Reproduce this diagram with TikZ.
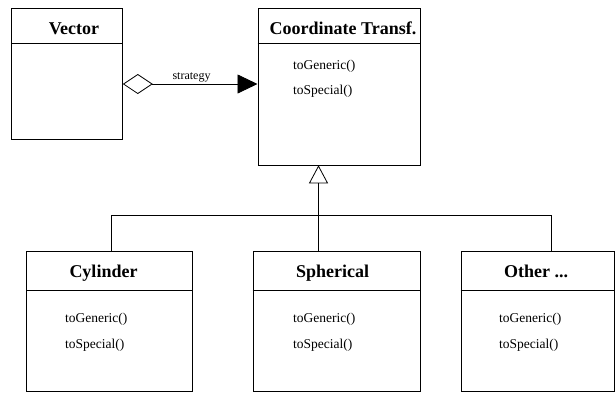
\documentclass[tikz,border=0pt]{standalone}
\usepackage{fontspec}
\setmainfont{Liberation Serif}
\usetikzlibrary{arrows.meta}

\tikzset{
  classbox/.style={draw, line width=0.8pt, inner sep=0pt, anchor=north west},
  classtitle/.style={anchor=base, inner sep=0pt, font=\fontsize{18}{20}\selectfont\bfseries},
  method/.style={anchor=base west, inner sep=0pt, font=\fontsize{13.5}{16}\selectfont},
  edgelabel/.style={anchor=base, inner sep=0pt, font=\fontsize{12}{14}\selectfont},
  conn/.style={line width=0.8pt},
  sepline/.style={line width=0.8pt},
}

\begin{document}
\begin{tikzpicture}[x=1pt, y=-1pt]
  \useasboundingbox (0,0) rectangle (615,392);

  % --- class boxes ---
  \node[classbox, minimum width=111pt, minimum height=131pt] (vec) at (11,8) {};
  \node[classbox, minimum width=162.5pt, minimum height=156.5pt] (ct) at (257.5,8) {};
  \node[classbox, minimum width=166.3pt, minimum height=140pt] (cyl) at (26,250.5) {};
  \node[classbox, minimum width=167.3pt, minimum height=140pt] (sph) at (252.7,250.5) {};
  \node[classbox, minimum width=153.3pt, minimum height=140pt] (oth) at (460.7,250.5) {};

  % --- header separators ---
  \draw[sepline] ([yshift=-35pt]vec.north west) -- ([yshift=-35pt]vec.north east);
  \draw[sepline] ([yshift=-35pt]ct.north west) -- ([yshift=-35pt]ct.north east);
  \draw[sepline] ([yshift=-40pt]cyl.north west) -- ([yshift=-40pt]cyl.north east);
  \draw[sepline] ([yshift=-40pt]sph.north west) -- ([yshift=-40pt]sph.north east);
  \draw[sepline] ([yshift=-40pt]oth.north west) -- ([yshift=-40pt]oth.north east);

  % --- titles ---
  \node[classtitle] (vecT) at (74,34) {Vector};
  \node[classtitle] (ctT) at (343,34) {Coordinate Transf.};
  \node[classtitle] (cylT) at (103.5,277.5) {Cylinder};
  \node[classtitle] (sphT) at (332.5,277.5) {Spherical};
  \node[classtitle] (othT) at (536,277.5) {Other ...};

  % --- operations ---
  \node[method] (ctG) at (293,69) {toGeneric()};
  \node[method] (ctS) at (293,94) {toSpecial()};
  \node[method] (cylG) at (65,322) {toGeneric()};
  \node[method] (cylS) at (65,348) {toSpecial()};
  \node[method] (sphG) at (293,322) {toGeneric()};
  \node[method] (sphS) at (293,348) {toSpecial()};
  \node[method] (othG) at (499,322) {toGeneric()};
  \node[method] (othS) at (499,348) {toSpecial()};

  % --- aggregation: Vector holds a strategy ---
  \draw[conn, {Diamond[open, length=30pt, width=20pt, line width=0.8pt]}-{Triangle[length=20pt, width=19pt]}]
    ([yshift=-76pt]vec.north east) -- ([yshift=-76pt]ct.north west);
  \node[edgelabel] (strat) at (191.5,79) {strategy};

  % --- inheritance tree ---
  \coordinate (busL) at (111.5,215);
  \coordinate (hub) at (318.5,215);
  \coordinate (busR) at (551,215);
  \draw[conn] (busL |- cyl.north) -- (busL) -- (busR) -- (busR |- oth.north);
  \draw[conn, -{Triangle[open, length=18pt, width=19pt, line width=0.8pt, fill=white]}]
    (hub |- sph.north) -- (hub |- ct.south);
\end{tikzpicture}
\end{document}
